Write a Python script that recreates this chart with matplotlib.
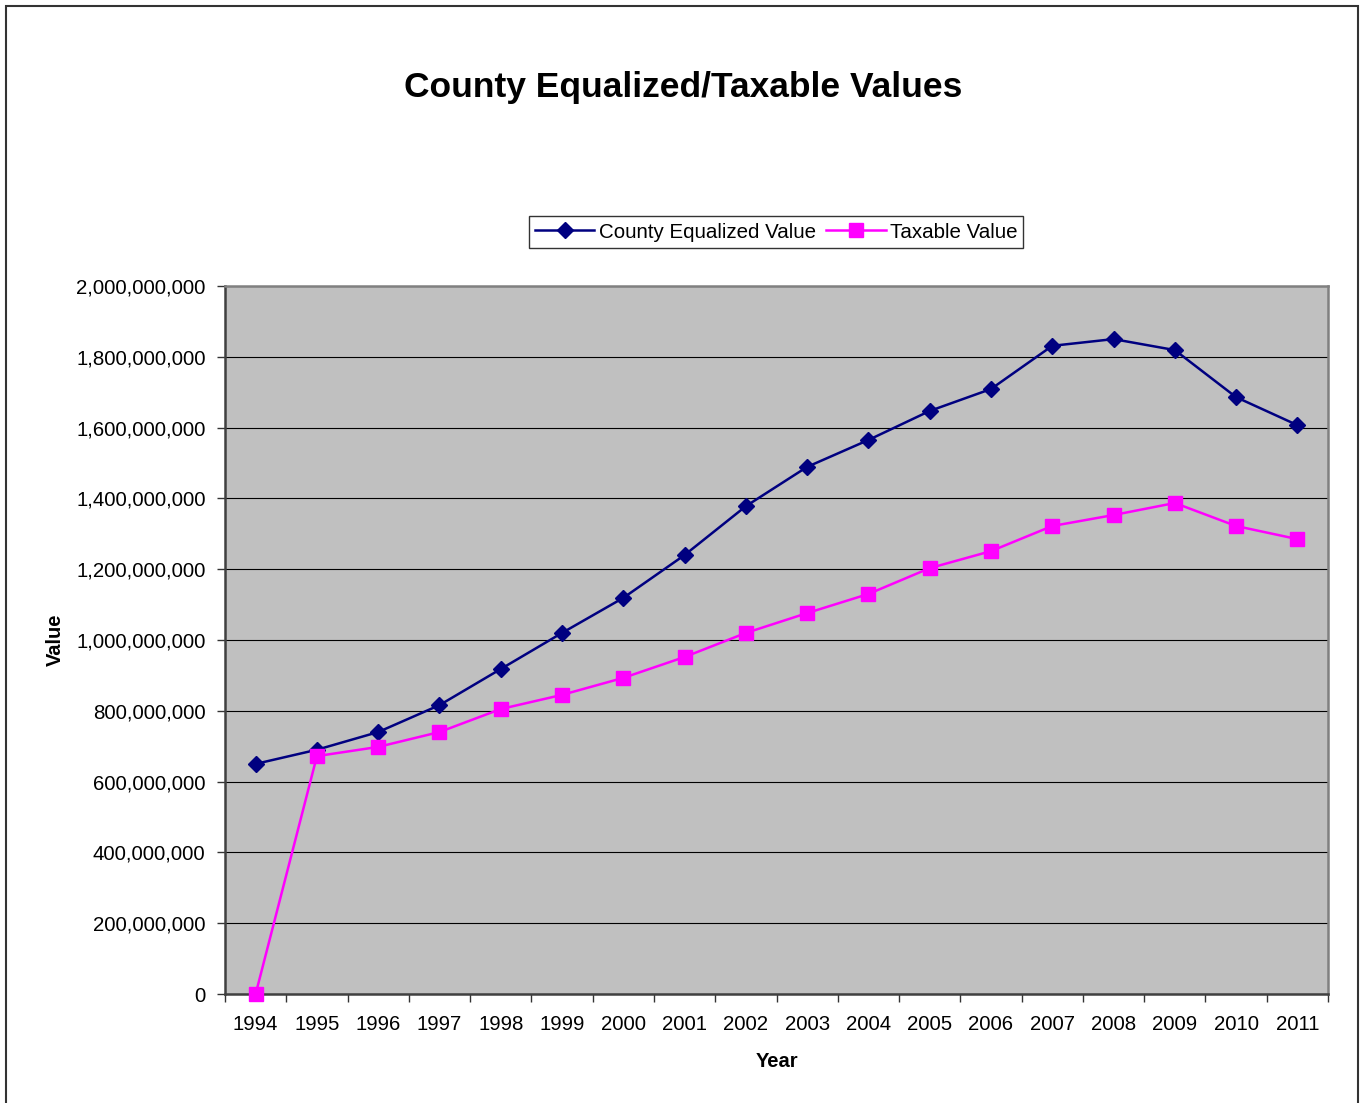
import matplotlib.pyplot as plt
from matplotlib.patches import Rectangle
from matplotlib.ticker import FuncFormatter

plt.rcParams["font.family"] = ["Liberation Sans", "DejaVu Sans"]

years = ["1994", "1995", "1996", "1997", "1998", "1999", "2000", "2001", "2002",
         "2003", "2004", "2005", "2006", "2007", "2008", "2009", "2010", "2011"]
equalized = [650e6, 690e6, 740e6, 816e6, 918e6, 1020e6, 1119e6, 1240e6, 1378e6,
             1489e6, 1565e6, 1647e6, 1709e6, 1831e6, 1850e6, 1819e6, 1686e6, 1607e6]
taxable = [0, 672e6, 698e6, 740e6, 805e6, 845e6, 893e6, 952e6, 1020e6,
           1076e6, 1130e6, 1203e6, 1251e6, 1322e6, 1353e6, 1387e6, 1322e6, 1285e6]

W, H = 1362, 1103
fig = plt.figure(figsize=(W / 100, H / 100), dpi=100)

# outer chart border (runs past the bottom edge)
fig.patches.append(Rectangle((6 / W, -0.05), (1358 - 6) / W, 1.05 - 6 / H,
                             transform=fig.transFigure, fill=False,
                             edgecolor="#333333", lw=1.5))

left, right, top, bottom = 225, 1328, 286, 994
ax = fig.add_axes([left / W, 1 - bottom / H, (right - left) / W, (bottom - top) / H])
ax.set_facecolor("#C0C0C0")

x = list(range(len(years)))
ax.plot(x, equalized, color="#000080", lw=1.8, marker="D", markersize=8,
        label="County Equalized Value", zorder=3)
ax.plot(x, taxable, color="#FF00FF", lw=1.8, marker="s", markersize=10,
        label="Taxable Value", zorder=3, clip_on=False)

ax.set_xlim(-0.5, len(years) - 0.5)
ax.set_ylim(0, 2e9)
ax.set_yticks([i * 200e6 for i in range(11)])
ax.yaxis.set_major_formatter(FuncFormatter(lambda v, p: f"{v:,.0f}"))
ax.set_xticks(x)
ax.set_xticklabels(years)
ax.set_xticks([i - 0.5 for i in range(len(years) + 1)], minor=True)
ax.tick_params(axis="x", which="major", length=0, pad=15, labelsize=14.7)
ax.tick_params(axis="x", which="minor", length=6, width=1, color="#333333")
ax.tick_params(axis="y", length=6, width=1, color="#333333", pad=8, labelsize=14.7)

ax.grid(axis="y", color="black", lw=0.8)
ax.set_axisbelow(True)
for side in ["left", "bottom"]:
    ax.spines[side].set_color("#404040")
    ax.spines[side].set_linewidth(1.8)
for side in ["top", "right"]:
    ax.spines[side].set_color("#808080")
    ax.spines[side].set_linewidth(1.8)

ax.set_xlabel("Year", fontsize=14.5, fontweight="bold", labelpad=13)
ax.set_ylabel("Value", fontsize=14.5, fontweight="bold", labelpad=8)

fig.text(683 / W, 1 - 87 / H, "County Equalized/Taxable Values", ha="center",
         va="center", fontsize=25.5, fontweight="bold")

leg = ax.legend(loc="center", bbox_to_anchor=((776 - left) / (right - left), (bottom - 232) / (bottom - top)),
                ncol=2, frameon=True, fancybox=False, shadow=False, fontsize=14.8,
                handlelength=2.9, columnspacing=0.5, handletextpad=0.2,
                borderpad=0.3, borderaxespad=0)
leg.get_frame().set_edgecolor("black")
leg.get_frame().set_linewidth(1)

fig.savefig("out.png", dpi=100)
